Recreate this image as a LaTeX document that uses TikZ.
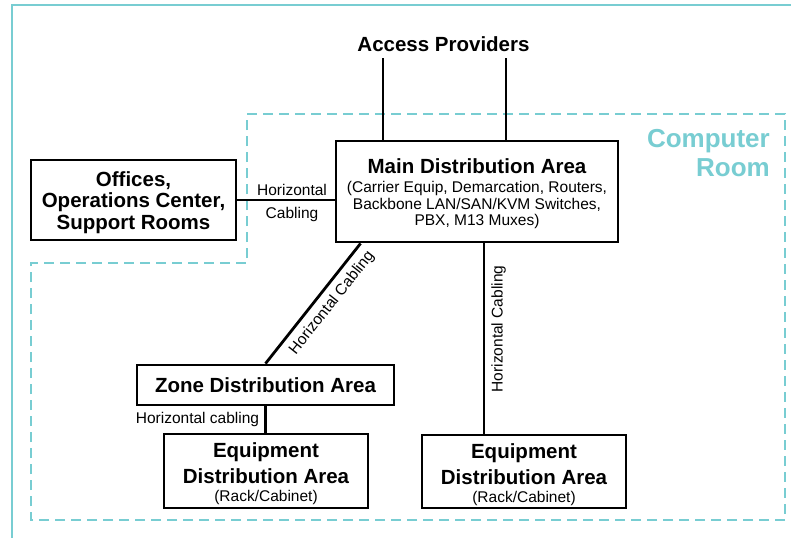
\documentclass[tikz,border=0pt]{standalone}
\usepackage{fontspec}
\setmainfont{Liberation Sans}
\usetikzlibrary{calc}
\definecolor{roomteal}{HTML}{78CDD2}
\begin{document}
\begin{tikzpicture}[x=1pt,y=-1pt,
  frameline/.style={draw=roomteal, line width=1.5pt},
  roomedge/.style={draw=roomteal, line width=2.7pt, dash pattern=on 10pt off 6pt},
  area/.style={draw=black, line width=2.9pt, fill=white, align=center, inner sep=0pt},
  headfont/.style={font=\fontsize{20.5}{21.5}\selectfont\bfseries},
  notefont/.style={font=\fontsize{15.5}{16.5}\selectfont},
  cable/.style={draw=black, line width=2.8pt},
]
% canvas
\useasboundingbox (0,0) rectangle (791,538);
\fill[white] (0,0) rectangle (791,538);

% outer frame (top and left edges)
\draw[frameline] (791,5) -- (12,5) -- (12,538);

% computer room outline
\draw[roomedge] (247,114) -- (785,114) -- (785,520) -- (31,520) -- (31,263) -- (247,263) -- cycle;
\node[anchor=east, align=right, inner sep=0pt, text=roomteal,
      font=\fontsize{26}{28.5}\selectfont\bfseries] (room) at (770,153.2) {Computer\\Room};

% areas
\node[headfont, anchor=base, inner sep=0pt] (access) at (443.5,51.5) {Access Providers};

\node[area, notefont, minimum width=282pt, minimum height=101pt] (mda) at (477,191.5)
  {\rule{0pt}{20pt}{\fontsize{20.5}{21}\selectfont\bfseries Main Distribution Area}\\[2.5pt]
   (Carrier Equip, Demarcation, Routers,\\
   Backbone LAN/SAN/KVM Switches,\\
   PBX, M13 Muxes)};

\node[area, headfont, minimum width=205pt, minimum height=80pt] (offices) at (133.5,200)
  {\rule{0pt}{20pt}Offices,\\Operations Center,\\Support Rooms};

\node[area, headfont, minimum width=257pt, minimum height=40pt] (zda) at (265.5,385)
  {Zone Distribution Area};

\node[area, font=\fontsize{20.5}{26}\selectfont\bfseries, minimum width=204pt, minimum height=74pt] (eda1) at (266,471)
  {\rule{0pt}{21pt}Equipment\\Distribution Area\\[-8pt]{\fontsize{15.5}{16.5}\selectfont\mdseries (Rack/Cabinet)}};

\node[area, font=\fontsize{20.5}{26}\selectfont\bfseries, minimum width=204pt, minimum height=73pt] (eda2) at (524,471.5)
  {\rule{0pt}{21pt}Equipment\\Distribution Area\\[-8pt]{\fontsize{15.5}{16.5}\selectfont\mdseries (Rack/Cabinet)}};

% provider feeds
\coordinate (feedA) at (383,58);
\coordinate (feedB) at (506,58);
\draw[cable] (feedA) -- (feedA |- mda.north);
\draw[cable] (feedB) -- (feedB |- mda.north);

% offices to main distribution
\draw[cable] (offices.east) -- (offices.east -| mda.west) coordinate[pos=0.5] (offmid);
\node[notefont, anchor=south, inner sep=0pt] (offlabA) at ($(offmid)+(6,-4)$) {Horizontal};
\node[notefont, anchor=north, inner sep=0pt] (offlabB) at ($(offmid)+(6,7)$) {Cabling};

% main distribution to zone distribution
\coordinate (mdadiag) at ($(mda.south west)+(26,0)$);
\draw[cable] (zda.north) -- (mdadiag)
  node[notefont, sloped, below, pos=0.58, inner sep=6pt] (diaglab) {Horizontal Cabling};

% main distribution to equipment distribution
\coordinate (mdavert) at ($(mda.south)+(7,0)$);
\draw[cable] (mdavert |- eda2.north) -- (mdavert)
  node[notefont, sloped, below, pos=0.55, inner sep=6pt] (vertlab) {Horizontal Cabling};

% zone distribution to equipment distribution
\draw[cable] (zda.south) -- (zda.south |- eda1.north)
  node[notefont, left, pos=0.5, inner sep=5pt] (zonelab) {Horizontal cabling};

\end{tikzpicture}
\end{document}
